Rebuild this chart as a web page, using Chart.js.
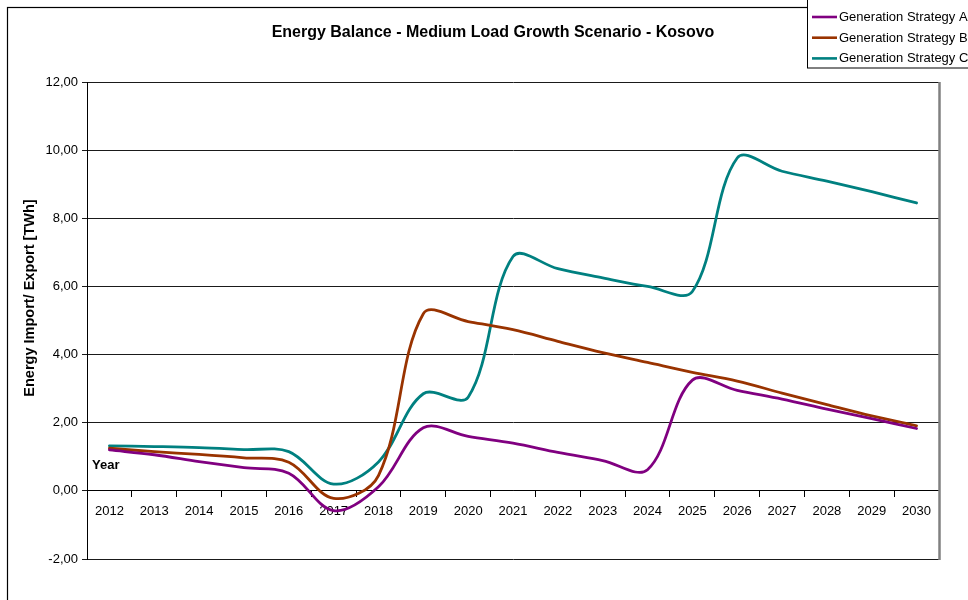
<!DOCTYPE html>
<html><head><meta charset="utf-8">
<script src="https://cdn.jsdelivr.net/npm/chart.js@4"></script>
<style>html,body{margin:0;padding:0;background:#fff;overflow:hidden}canvas{display:block}</style>
</head><body>
<canvas id="c" width="968" height="600"></canvas>
<script>
const years = ['2012','2013','2014','2015','2016','2017','2018','2019','2020','2021','2022','2023','2024','2025','2026','2027','2028','2029','2030'];
const strategyA = [1.20,1.06,0.86,0.68,0.52,-0.58,0.12,1.85,1.60,1.40,1.13,0.89,0.62,3.25,2.95,2.69,2.40,2.12,1.83];
const strategyB = [1.25,1.15,1.07,0.97,0.84,-0.22,0.45,5.20,4.97,4.73,4.39,4.06,3.77,3.48,3.22,2.87,2.53,2.20,1.91];
const strategyC = [1.32,1.30,1.27,1.21,1.15,0.20,0.85,2.85,2.75,6.88,6.52,6.25,6.00,5.85,9.77,9.38,9.09,8.78,8.45];
const seriesNames = ['Generation Strategy A','Generation Strategy B','Generation Strategy C'];
const seriesColors = ['#800080','#993300','#008080'];
const yMin = -2, yMax = 12, yStep = 2;
const chartTitle = 'Energy Balance - Medium Load Growth Scenario - Kosovo';
const yTitle = 'Energy Import/ Export [TWh]';
const xTitle = 'Year';
const FONT = 'Arial, "Liberation Sans", sans-serif';

const decor = {
  id: 'decor',
  beforeDraw(chart) {
    const ctx = chart.ctx;
    ctx.save(); ctx.fillStyle = '#fff'; ctx.fillRect(0, 0, chart.width, chart.height); ctx.restore();
  },
  afterDraw(chart) {
    const ctx = chart.ctx, a = chart.chartArea;
    ctx.save();
    ctx.strokeStyle = '#000'; ctx.lineWidth = 1.2;
    ctx.strokeRect(7.5, 7.5, 1200, 1200);
    ctx.strokeStyle = '#808080'; ctx.lineWidth = 2.5;
    ctx.beginPath(); ctx.moveTo(a.right + 0.5, a.top); ctx.lineTo(a.right + 0.5, a.bottom + 1); ctx.stroke();
    ctx.fillStyle = '#000';
    ctx.font = 'bold 16px ' + FONT; ctx.textAlign = 'center'; ctx.textBaseline = 'middle';
    ctx.fillText(chartTitle, 493, 33);
    ctx.save(); ctx.translate(30, 298); ctx.rotate(-Math.PI / 2);
    ctx.font = 'bold 14.5px ' + FONT; ctx.fillText(yTitle, 0, 0); ctx.restore();
    ctx.font = 'bold 13px ' + FONT; ctx.textAlign = 'left';
    ctx.fillText(xTitle, 92, 465);
    // legend
    ctx.fillStyle = '#fff'; ctx.fillRect(807, -5, 200, 73);
    ctx.strokeStyle = '#000'; ctx.lineWidth = 1; ctx.strokeRect(807.5, -5, 200, 73);
    chart.data.datasets.forEach((ds, i) => {
      const y = 17 + i * 20.7;
      ctx.strokeStyle = ds.borderColor; ctx.lineWidth = 2.6;
      ctx.beginPath(); ctx.moveTo(812, y); ctx.lineTo(837, y); ctx.stroke();
      ctx.fillStyle = '#000'; ctx.font = '13px ' + FONT; ctx.textAlign = 'left'; ctx.textBaseline = 'middle';
      ctx.fillText(ds.label, 839, y + 0.5);
    });
    ctx.restore();
  }
};

new Chart(document.getElementById('c'), {
  type: 'line',
  data: {
    labels: years,
    datasets: [strategyA, strategyB, strategyC].map((d, i) => ({
      label: seriesNames[i], data: d, borderColor: seriesColors[i], backgroundColor: seriesColors[i],
      borderWidth: 2.8, pointRadius: 0, tension: 0.35, fill: false, borderJoinStyle: 'round', borderCapStyle: 'round'
    }))
  },
  options: {
    responsive: false, animation: false, devicePixelRatio: 1,
    layout: { padding: { top: 82, left: 7, right: 29, bottom: 41 } },
    plugins: { legend: { display: false }, title: { display: false }, tooltip: { enabled: false } },
    scales: {
      x: {
        type: 'category', offset: true, position: { y: 0 },
        grid: { display: true, drawOnChartArea: false, drawTicks: true, tickLength: 6, offset: true, color: '#000' },
        border: { display: true, color: '#000', width: 1 },
        ticks: { color: '#000', font: { size: 13, family: FONT }, padding: 7, maxRotation: 0, autoSkip: false }
      },
      y: {
        min: yMin, max: yMax,
        ticks: { stepSize: yStep, color: '#000', font: { size: 13, family: FONT }, padding: 4,
          callback: v => v.toFixed(2).replace('.', ',') },
        grid: { color: '#1a1a1a', lineWidth: 1, drawTicks: true, tickLength: 5 },
        border: { display: true, color: '#000', width: 1 },
        afterFit(s) { s.width = 80; }
      }
    }
  },
  plugins: [decor]
});
</script>
</body></html>
